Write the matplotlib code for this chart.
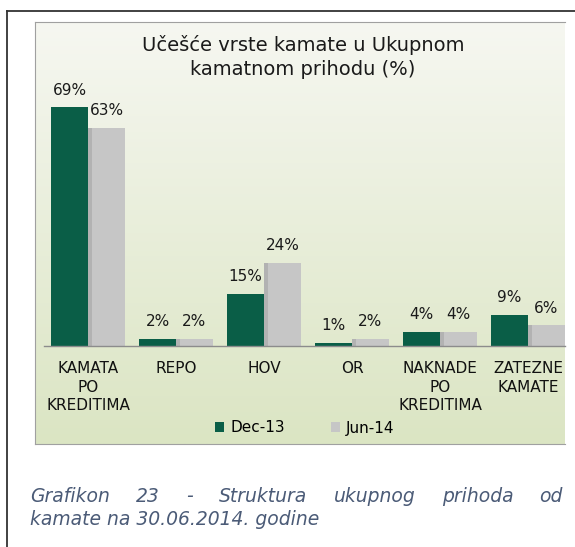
import numpy as np
import matplotlib
matplotlib.use("Agg")
import matplotlib.pyplot as plt
from matplotlib.lines import Line2D

categories = ["KAMATA\nPO\nKREDITIMA", "REPO", "HOV", "OR", "NAKNADE\nPO\nKREDITIMA", "ZATEZNE\nKAMATE"]
dec13 = [69, 2, 15, 1, 4, 9]
jun14 = [63, 2, 24, 2, 4, 6]
series_names = ["Dec-13", "Jun-14"]

title = "Učešće vrste kamate u Ukupnom\nkamatnom prihodu (%)"
caption_line1 = "Grafikon 23 - Struktura ukupnog prihoda od"
caption_line2 = "kamate na 30.06.2014. godine"

W, H = 575, 547
fig = plt.figure(figsize=(W / 100, H / 100), dpi=100)
fig.patch.set_facecolor("white")


def fx(px):
    return px / W


def fy(py):
    return 1 - py / H


# outer frame (left + top line)
fig.add_artist(Line2D([fx(7), fx(7)], [0, fy(11)], color="#333333", lw=1.3))
fig.add_artist(Line2D([fx(7), 1], [fy(11), fy(11)], color="#333333", lw=1.3))

# chart panel with light green gradient
bg = fig.add_axes([fx(35), fy(444), fx(565 - 35), (444 - 22) / H])
top = np.array(matplotlib.colors.to_rgb("#f6f7f1"))
bot = np.array(matplotlib.colors.to_rgb("#dbe5c3"))
t = np.linspace(0, 1, 256)[:, None]
grad = top * (1 - t) + bot * t
bg.imshow(grad[:, None, :], aspect="auto", extent=[0, 1, 0, 1])
bg.set_xticks([])
bg.set_yticks([])
for s in bg.spines.values():
    s.set_color("#a0a0a0")
    s.set_linewidth(0.8)
bg.spines["right"].set_visible(False)

# main bar axes
px_per_unit = 3.46
ax = fig.add_axes([fx(44), fy(346), fx(565 - 44), (346 - 22) / H])
ax.patch.set_alpha(0)
x = np.arange(len(categories))
bw = 0.42
b1 = ax.bar(x - bw / 2, dec13, bw, color="#0a5e47", label=series_names[0], zorder=3)
b2 = ax.bar(x + bw / 2, jun14, bw, color="#c6c6c6", label=series_names[1], zorder=2)
# soft shadow on the left edge of the grey bars
ax.bar(x + bw * 0.06, jun14, bw * 0.12, color="#8f8f8f", alpha=0.35, zorder=2.5)
ax.set_xlim(-0.5, 5.5 - 7 / 88)
ax.set_ylim(0, (346 - 22) / px_per_unit)

for bars, vals in ((b1, dec13), (b2, jun14)):
    for r, v in zip(bars, vals):
        ax.annotate(f"{v}%", (r.get_x() + r.get_width() / 2, v),
                    xytext=(0, 7), textcoords="offset points",
                    ha="center", va="bottom", fontsize=11, color="#1a1a1a")

ax.set_xticks(x)
ax.set_xticklabels(categories, fontsize=11, linespacing=1.3, color="#111111")
ax.tick_params(axis="x", length=0, pad=11)
ax.set_yticks([])
for s in ["top", "right", "left"]:
    ax.spines[s].set_visible(False)
ax.spines["bottom"].set_color("#8c8c8c")
ax.spines["bottom"].set_linewidth(1.0)
ax.spines["bottom"].set_zorder(4)

ax.legend(handles=[b1, b2], loc="center", bbox_to_anchor=(fx(305), fy(428)),
          bbox_transform=fig.transFigure, ncol=2, frameon=False, fontsize=11,
          handlelength=0.6, handleheight=0.6, handletextpad=0.4, columnspacing=3.0)

fig.text(fx(303), fy(57), title, ha="center", va="center", fontsize=14,
         linespacing=1.35, color="#1a1a1a")

# justified caption, first line
renderer = fig.canvas.get_renderer()
words = caption_line1.split()
left, right = 30, 563
arts = [fig.text(0, fy(502), w_, fontsize=13.5, style="italic", color="#4b5b77",
                 ha="left", va="baseline") for w_ in words]
widths = [a.get_window_extent(renderer).width for a in arts]
gap = (right - left - sum(widths)) / (len(words) - 1)
pos = left
for a, w_ in zip(arts, widths):
    a.set_x(fx(pos))
    pos += w_ + gap
fig.text(fx(30), fy(525), caption_line2, fontsize=13.5, style="italic",
         color="#4b5b77", ha="left", va="baseline")

fig.savefig("out.png", dpi=100)
